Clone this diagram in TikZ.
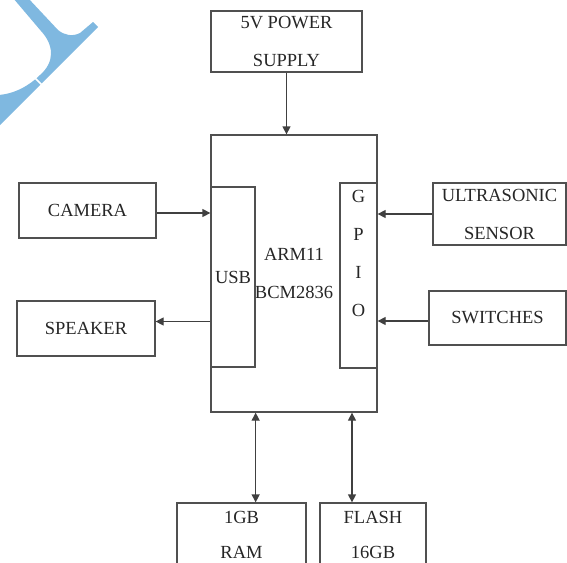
\documentclass[tikz,border=0pt]{standalone}
\usepackage{fontspec}
\setmainfont{Liberation Serif}
\usetikzlibrary{arrows.meta, positioning}
\definecolor{wmblue}{RGB}{127,184,224}
\definecolor{linegray}{RGB}{80,80,80}

\begin{document}
\begin{tikzpicture}[
  x=1pt, y=-1pt,
  box/.style={rectangle, draw=linegray, line width=1.3pt, inner sep=0pt,
    font=\fontsize{18.5}{38}\selectfont, align=center, text=black!85},
  txt/.style={inner sep=0pt, font=\fontsize{18.5}{38}\selectfont,
    align=center, text=black!85},
  mem/.style={box, minimum height=63pt, font=\fontsize{18.5}{35}\selectfont},
  arr/.style={-{Triangle[length=8pt,width=8pt]}, line width=1.3pt, draw=black!75},
  arr2/.style={{Triangle[length=8pt,width=8pt]}-{Triangle[length=8pt,width=8pt]},
    line width=1.3pt, draw=black!75}
]
  \clip (0,0) rectangle (567,562);

  %% corner mark
  \fill[wmblue] (13,-2) -- (41,31) .. controls (54,45) and (55,62) .. (40,75)
    .. controls (30,85) and (15,94) .. (-2,95) -- (-2,127) -- (98,27) -- (93,22)
    -- (80,33) .. controls (72,37) and (64,35) .. (58,30) -- (28,-2) -- cycle;
  \draw[white, line width=1.5pt] (34,77) -- (43,86);

  %% processor
  \node[box, minimum width=166pt, minimum height=277pt] (soc) at (294,273.5)
    {ARM11\\BCM2836};
  \node[box, minimum width=44pt, minimum height=180pt] (usb) at (233,277) {USB};
  \node[box, minimum width=37pt, minimum height=185pt] (gpio) at (358.5,275.5) {};
  \node[txt, below=8pt of gpio.north] (gpiotxt) {G\\P\\I\\O};

  %% peripherals
  \node[box, minimum width=151pt, minimum height=61pt] (power) at (286.5,41.5)
    {5V POWER\\SUPPLY};
  \node[box, minimum width=137pt, minimum height=55pt] (camera) at (87.5,210.5)
    {CAMERA};
  \node[box, minimum width=138pt, minimum height=55pt] (speaker) at (86,328.5)
    {SPEAKER};
  \node[box, minimum width=133pt, minimum height=62pt] (ultra) at (499.5,214)
    {ULTRASONIC\\SENSOR};
  \node[box, minimum width=137pt, minimum height=54pt] (switches) at (497.5,318)
    {SWITCHES};
  \node[mem, minimum width=129pt] (ram) at (241.5,534.5) {1GB\\RAM};
  \node[mem, minimum width=106pt] (flash) at (373,534.5) {FLASH\\16GB};

  \draw[arr] (power) -- (power |- soc.north);
  \draw[arr] ([yshift=-2.5pt]camera.east) -- ([yshift=-2.5pt]camera.east -| soc.west);
  \draw[arr] ([yshift=7pt]soc.west |- speaker.east) -- ([yshift=7pt]speaker.east);
  \draw[arr] (ultra) -- (ultra -| gpio.east);
  \draw[arr] ([yshift=-3pt]switches.west) -- ([yshift=-3pt]switches.west -| gpio.east);
  \draw[arr2] (usb.east |- soc.south) -- (usb.east |- ram.north);
  \draw[arr2] ([xshift=-21pt]flash.north |- soc.south) -- ([xshift=-21pt]flash.north);
\end{tikzpicture}
\end{document}
